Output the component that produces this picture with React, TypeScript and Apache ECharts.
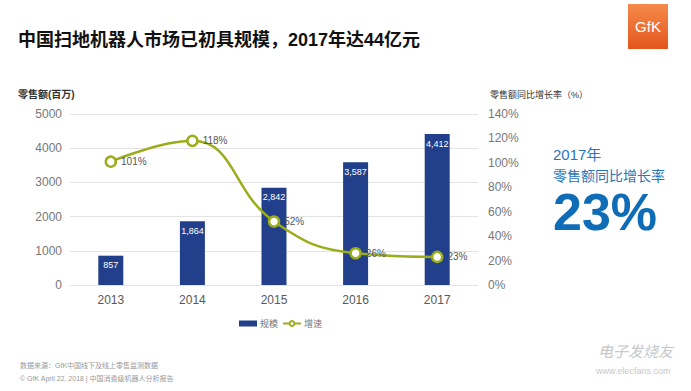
import React, { useEffect, useRef } from "react";
import * as echarts from "echarts";

const years = ["2013", "2014", "2015", "2016", "2017"];
const sales = [857, 1864, 2842, 3587, 4412];
const growth = [101, 118, 52, 26, 23];
const seriesNames = ["规模", "增速"];

const CJK = 'Arial, "Liberation Sans", "Noto Sans CJK SC", sans-serif';

export default function App() {
  const ref = useRef<HTMLDivElement>(null);
  useEffect(() => {
    if (!ref.current) return;
    const chart = echarts.init(ref.current, undefined, { renderer: "svg" });
    chart.setOption({
      animation: false,
      backgroundColor: "#ffffff",
      textStyle: { fontFamily: CJK },
      grid: { left: 70, right: 213, top: 114, bottom: 106 },
      legend: {
        data: [
          { name: seriesNames[0], icon: "rect" },
          { name: seriesNames[1] },
        ],
        left: 234,
        top: 314,
        itemWidth: 18,
        itemHeight: 6,
        itemGap: 4,
        textStyle: { fontSize: 9, color: "#777", padding: [0, 0, 0, -2] },
      },
      xAxis: {
        type: "category",
        data: years,
        axisLine: { show: false },
        axisTick: { show: false },
        axisLabel: { color: "#595959", fontSize: 12, margin: 9 },
      },
      yAxis: [
        {
          type: "value",
          min: 0,
          max: 5000,
          interval: 1000,
          axisLine: { show: false },
          axisTick: { show: false },
          axisLabel: { color: "#777", fontSize: 12, margin: 8, formatter: (v: number) => String(v) },
          splitLine: { lineStyle: { color: "#e3e3e3", width: 1 } },
        },
        {
          type: "value",
          min: 0,
          max: 140,
          interval: 20,
          axisLine: { show: false },
          axisTick: { show: false },
          axisLabel: { color: "#777", fontSize: 12, margin: 10, formatter: "{value}%" },
          splitLine: { show: false },
        },
      ],
      series: [
        {
          name: seriesNames[0],
          type: "bar",
          data: sales,
          barWidth: 25,
          itemStyle: { color: "#213f8a" },
          label: {
            show: true,
            position: "insideTop",
            distance: 5,
            color: "#ffffff",
            fontSize: 9,
            formatter: (p: any) => Number(p.value).toLocaleString("en-US"),
          },
        },
        {
          name: seriesNames[1],
          type: "line",
          yAxisIndex: 1,
          data: growth,
          smooth: 0.45,
          symbol: "circle",
          symbolSize: 10,
          lineStyle: { color: "#9cad1b", width: 2.5 },
          itemStyle: { color: "#ffffff", borderColor: "#9cad1b", borderWidth: 2.5 },
          label: {
            show: true,
            position: "right",
            distance: 4,
            color: "#555",
            fontSize: 10,
            formatter: "{c}%",
          },
          z: 5,
        },
      ],
      graphic: [
        {
          type: "text",
          left: 18,
          top: 31,
          style: {
            text: "中国扫地机器人市场已初具规模，2017年达44亿元",
            font: `bold 18px ${CJK}`,
            fill: "#111",
          },
        },
        {
          type: "rect",
          shape: { x: 628, y: 4, width: 40, height: 45 },
          style: {
            fill: new echarts.graphic.LinearGradient(0, 0, 0, 1, [
              { offset: 0, color: "#f58a4a" },
              { offset: 1, color: "#e4571e" },
            ]),
          },
        },
        {
          type: "text",
          x: 648,
          y: 26,
          style: {
            text: "GfK",
            font: `15px ${CJK}`,
            fill: "#ffffff",
            align: "center",
            verticalAlign: "middle",
          },
        },
        {
          type: "text",
          left: 18,
          top: 89,
          style: { text: "零售额(百万)", font: `bold 10px ${CJK}`, fill: "#333" },
        },
        {
          type: "text",
          left: 490,
          top: 90,
          style: { text: "零售额同比增长率（%）", font: `9px ${CJK}`, fill: "#333" },
        },
        {
          type: "text",
          left: 553,
          top: 147,
          style: { text: "2017年", font: `15px ${CJK}`, fill: "#2a74b8" },
        },
        {
          type: "text",
          left: 553,
          top: 169,
          style: { text: "零售额同比增长率", font: `14px ${CJK}`, fill: "#2a74b8" },
        },
        {
          type: "text",
          left: 553,
          top: 186,
          style: { text: "23%", font: `bold 52px ${CJK}`, fill: "#0f6db7" },
        },
        {
          type: "text",
          left: 20,
          top: 362,
          style: { text: "数据来源：GfK中国线下及线上零售监测数据", font: `7px ${CJK}`, fill: "#999" },
        },
        {
          type: "text",
          left: 20,
          top: 375,
          style: { text: "© GfK April 22, 2018 | 中国消费级机器人分析报告", font: `7px ${CJK}`, fill: "#999" },
        },
        {
          type: "text",
          left: 598,
          top: 344,
          style: { text: "电子发烧友", font: `italic 15px ${CJK}`, fill: "#c8c8c8" },
        },
        {
          type: "text",
          left: 596,
          top: 366,
          style: { text: "www.elecfans.com", font: `9px ${CJK}`, fill: "#c8c8c8" },
        },
      ],
    });
    return () => chart.dispose();
  }, []);
  return <div ref={ref} style={{ width: 691, height: 391, position: "absolute", left: 0, top: 0 }} />;
}
